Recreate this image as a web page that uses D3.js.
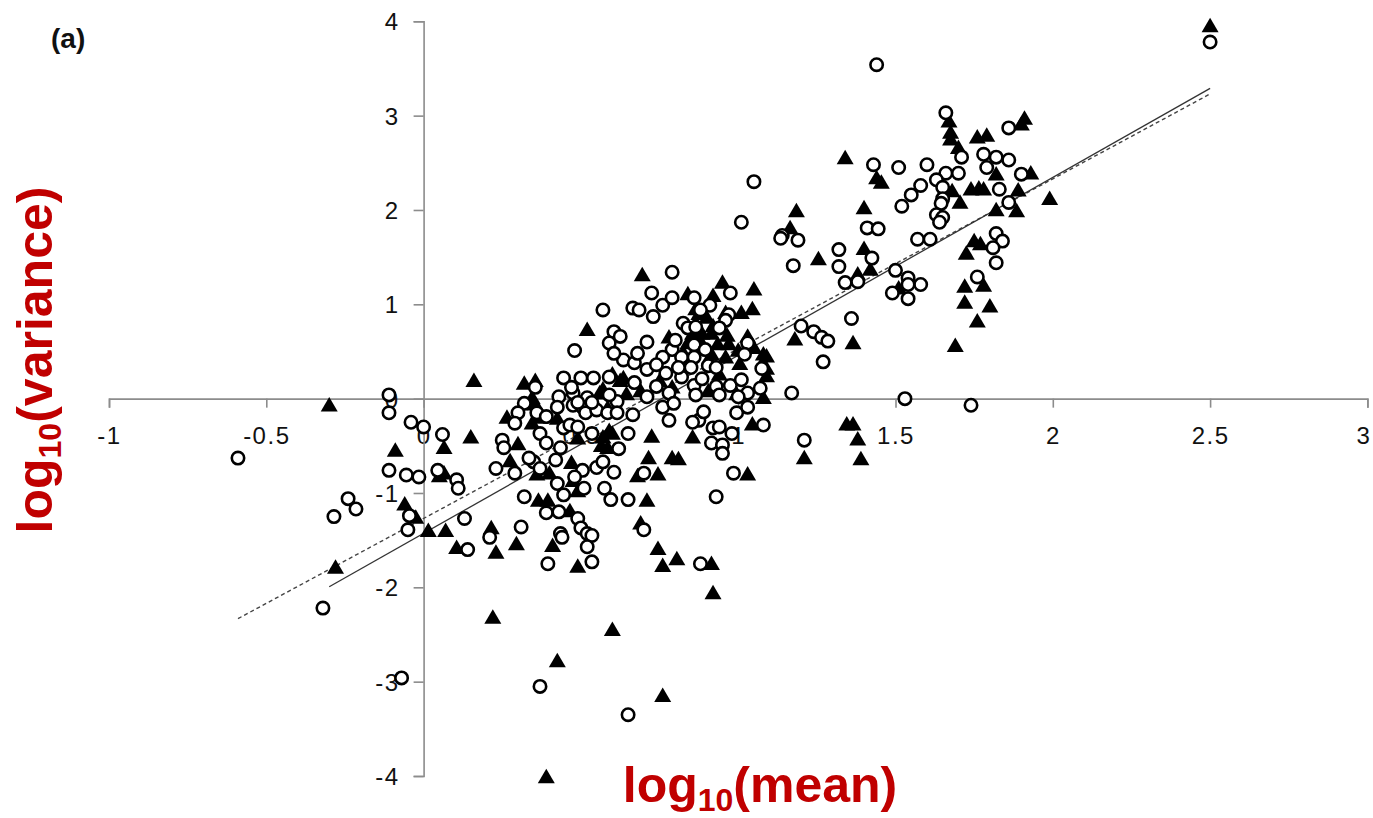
<!DOCTYPE html>
<html>
<head>
<meta charset="utf-8">
<script src="https://cdn.jsdelivr.net/npm/d3@7"></script>
<style>
  html, body { margin: 0; padding: 0; background: #ffffff; }
  svg { display: block; }
</style>
</head>
<body>
<svg id="chart" width="1373" height="818"></svg>
<script>
// ---------------- DATA ----------------
const xTicks = [-1, -0.5, 0, 0.5, 1, 1.5, 2, 2.5, 3];
const yTicks = [-4, -3, -2, -1, 0, 1, 2, 3, 4];
const panelLabel = "(a)";
const xTitleMain = "log", xTitleSub = "10", xTitleTail = "(mean)";
const yTitleMain = "log", yTitleSub = "10", yTitleTail = "(variance)";

// open circles: [log10(mean), log10(variance)]
const circles = [
  [2.50,3.78],[1.44,3.54],[1.66,3.03],[1.86,2.87],[1.71,2.56],[1.78,2.59],[1.82,2.56],[1.86,2.53],
  [1.43,2.48],[1.51,2.45],[1.60,2.48],[1.79,2.45],[1.66,2.39],[1.70,2.39],[1.90,2.38],[1.63,2.32],
  [1.58,2.26],[1.55,2.16],[1.52,2.04],[1.65,2.24],[1.65,2.12],[1.645,2.07],[1.63,1.95],[1.65,1.92],
  [1.64,1.87],[1.83,2.22],[1.86,2.08],[1.41,1.81],[1.445,1.80],[1.57,1.69],[1.61,1.69],[1.82,1.75],
  [1.84,1.67],[1.81,1.60],[1.82,1.44],[1.425,1.49],[1.50,1.36],[1.54,1.28],[1.58,1.21],[1.49,1.12],
  [1.54,1.06],[1.54,1.21],[1.76,1.29],[1.53,0.0],[1.74,-0.07],
  [1.14,1.73],[1.19,1.68],[1.175,1.41],[1.32,1.58],[1.32,1.40],[1.34,1.23],[1.38,1.24],[1.36,0.85],
  [1.20,0.77],[1.24,0.71],[1.265,0.65],[1.285,0.61],[1.27,0.39],[1.17,0.06],
  [1.05,2.30],[1.01,1.87],[1.135,1.70],[0.79,1.34],[0.57,0.94],[0.665,0.96],[0.685,0.94],[0.725,1.12],
  [0.76,0.99],[0.73,0.87],[0.79,1.07],[0.605,0.71],[0.625,0.66],[0.59,0.59],[0.71,0.60],[0.48,0.51],
  [0.86,1.07],[0.91,0.99],[0.975,1.12],[0.97,0.89],[0.96,0.83],[0.825,0.80],[0.84,0.75],[0.865,0.76],
  [0.94,0.75],[1.03,0.59],
  [0.88,0.94],[0.79,0.52],[0.76,0.44],[0.86,0.57],[0.895,0.52],[0.635,0.41],[0.67,0.38],[0.71,0.31],
  [0.77,0.27],[0.82,0.44],[0.86,0.44],[0.85,0.33],[0.905,0.35],[0.93,0.33],[1.02,0.47],[1.075,0.32],
  [0.59,0.23],[0.67,0.17],[0.74,0.13],[0.82,0.23],[0.86,0.14],[0.885,0.21],[0.93,0.13],[0.975,0.14],
  [1.01,0.20],[1.07,0.11],[0.615,-0.03],[0.71,0.02],[0.78,0.06],[0.865,0.04],[0.94,0.04],[1.03,0.06],
  [0.355,0.12],[0.445,0.22],[0.50,0.22],[0.54,0.22],[0.605,0.48],[0.43,0.02],[0.475,0.06],[0.52,0.01],
  [0.32,-0.05],[0.425,-0.09],[0.475,-0.07],[0.505,-0.09],
  [0.06,-0.38],[0.25,-0.44],[0.255,-0.52],[0.30,-0.15],[0.29,-0.26],[0.37,-0.37],[0.39,-0.47],[0.36,-0.15],
  [0.39,-0.19],[0.435,-0.52],[0.42,-0.65],[0.35,-0.67],[0.335,-0.63],[0.37,-0.74],[0.29,-0.79],[0.23,-0.74],
  [0.105,-0.86],[0.11,-0.95],[0.32,-1.04],[0.425,-0.90],[0.445,-1.02],[0.39,-1.21],[0.43,-1.20],[0.505,-0.76],
  [0.55,-0.73],[0.57,-0.67],[0.605,-0.78],[0.51,-0.95],[0.575,-0.95],[0.595,-1.07],[0.49,-1.27],[0.50,-1.37],
  [0.52,-1.43],[0.535,-1.45],[0.52,-1.57],[0.535,-1.73],[0.395,-1.75],[0.435,-1.43],[0.44,-1.47],[0.31,-1.36],
  [0.21,-1.47],[0.13,-1.27],[0.14,-1.60],[0.48,-0.83],[0.445,-0.31],[0.465,-0.28],[0.49,-0.30],[0.535,-0.37],
  [0.515,-0.15],[0.55,-0.12],[0.585,-0.15],[0.49,-0.04],[0.535,-0.04],
  [0.615,-0.15],[0.665,-0.17],[0.65,-0.37],[0.62,-0.53],[0.76,-0.09],[0.78,-0.23],[0.795,-0.05],[0.875,-0.23],
  [0.855,-0.25],[0.89,-0.14],[0.92,-0.31],[0.94,-0.30],[0.915,-0.47],[0.95,-0.49],[0.95,-0.58],[0.98,-0.37],
  [0.995,-0.15],[1.03,-0.09],[1.08,-0.28],[0.70,-0.79],[0.65,-1.07],[0.70,-1.39],[0.985,-0.79],[0.93,-1.04],
  [0.88,-1.75],[1.21,-0.44],
  [0.37,-3.05],[0.65,-3.35],[-0.04,-0.25],[0.0,-0.30],[-0.055,-0.81],[-0.015,-0.83],[0.045,-0.76],
  [-0.59,-0.63],[-0.11,0.04],[-0.11,-0.15],[-0.11,-0.76],[-0.285,-1.25],[-0.24,-1.06],[-0.215,-1.17],
  [-0.045,-1.24],[-0.05,-1.39],[-0.32,-2.22],[-0.07,-2.96],
  [0.47,0.12],[0.59,0.04],[0.81,0.33],[1.0,0.02],[0.74,0.36],[0.80,0.62],[0.68,0.48]
];

// filled triangles: [log10(mean), log10(variance)]
const triangles = [
  [2.50,3.96],[1.91,2.98],[1.90,2.92],[1.67,2.95],[1.675,2.83],[1.675,2.76],[1.70,2.67],[1.76,2.78],
  [1.79,2.80],[1.44,2.35],[1.455,2.30],[1.40,2.03],[1.74,2.23],[1.765,2.24],[1.78,2.23],[1.705,2.09],
  [1.68,2.21],[1.82,2.39],[1.93,2.40],[1.89,2.22],[1.99,2.13],[1.82,2.01],[1.885,2.00],[1.40,1.60],
  [1.42,1.38],[1.75,1.68],[1.77,1.65],[1.725,1.55],[1.72,1.20],[1.78,1.21],[1.72,1.03],[1.80,0.99],
  [1.76,0.83],[1.69,0.57],
  [1.34,2.56],[1.185,2.00],[1.165,1.82],[1.255,1.49],[1.38,1.33],[1.18,0.64],[1.365,0.60],[1.51,1.18],
  [0.695,1.32],[0.52,0.74],[0.84,1.12],[0.95,1.24],[1.05,1.17],[1.045,0.96],[1.01,0.92],[0.92,1.10],
  [1.03,0.67],[0.16,0.20],[0.32,0.17],[0.355,0.20],[0.60,0.27],[0.635,0.23],[1.09,0.46],[1.09,0.25],
  [0.865,0.96],[0.875,0.91],[0.96,0.92],[0.855,0.70],[0.885,0.70],[0.915,0.70],[0.965,0.68],[1.05,0.55],
  [1.08,0.48],[1.005,0.38],[1.09,0.33],[0.94,0.27],[0.91,0.41],[0.84,0.60],[0.625,0.20],[0.69,0.09],
  [0.75,0.20],[0.79,0.13],[0.905,0.09],[0.995,0.06],[1.08,0.02],[0.97,0.59],[0.90,0.87],[0.92,0.78],
  [0.57,0.11],[0.345,0.02],
  [0.15,-0.40],[0.065,-0.51],[0.065,-0.78],[0.30,-0.47],[0.275,-0.65],[0.265,-0.19],[0.345,-0.25],[0.37,-0.19],
  [0.425,-0.20],[0.36,-0.79],[0.40,-0.78],[0.47,-0.67],[0.475,-0.86],[0.365,-1.07],[0.395,-1.07],[0.465,-1.18],
  [0.49,-0.97],[0.07,-1.39],[0.105,-1.57],[0.215,-1.36],[0.23,-1.62],[0.295,-1.53],[0.41,-1.55],[0.49,-1.77],
  [0.57,-0.40],[0.585,-0.51],[0.49,-0.41],[0.355,-0.05],
  [0.725,-0.39],[0.855,-0.40],[0.715,-0.62],[0.79,-0.62],[0.81,-0.63],[0.68,-0.81],[0.745,-0.79],[1.03,-0.79],
  [1.045,-0.26],[0.71,-1.07],[0.69,-1.31],[0.745,-1.58],[0.805,-1.69],[0.76,-1.76],[0.915,-1.74],[0.60,-0.36],
  [0.22,-2.31],[0.60,-2.44],[0.425,-2.77],[0.76,-3.14],[0.39,-4.0],[0.92,-2.05],[1.21,-0.62],[1.345,-0.26],
  [1.365,-0.26],[1.38,-0.42],[1.39,-0.63],[0.05,-0.81],[0.015,-1.39],[0.56,0.07],[0.565,-0.49],[0.585,-0.09],
  [0.59,-0.33],[0.645,0.06],
  [-0.30,-0.06],[-0.09,-0.54],[-0.06,-1.11],[-0.025,-1.25],[-0.28,-1.78],
  [0.935,0.59],[0.915,0.48],[0.825,0.50],[0.96,0.45],[0.78,0.66],[0.88,0.62],[1.0,0.52]
];

// regression lines: [x0, x1], slope, intercept
const solidFit = { xs: [-0.30, 2.50], slope: 1.887, intercept: -1.428 };
const dashedFit = { xs: [-0.59, 2.50], slope: 1.800, intercept: -1.270 };

// ---------------- CHART ----------------
const svg = d3.select("#chart");
const x = d3.scaleLinear().domain([-1, 3]).range([109, 1367.4]);
const y = d3.scaleLinear().domain([-4, 4]).range([776, 21.3]);
const axisColor = "#8c8c8c";
const font = "'Liberation Sans', Arial, sans-serif";

// x axis
const gx = svg.append("g")
  .attr("transform", `translate(0,${y(0)})`)
  .call(d3.axisBottom(x).tickValues(xTicks).tickFormat(d => String(d))
    .tickSize(9).tickSizeOuter(9).tickPadding(19));
// y axis
const gy = svg.append("g")
  .attr("transform", `translate(${x(0)},0)`)
  .call(d3.axisLeft(y).tickValues(yTicks).tickFormat(d => String(d))
    .tickSize(10).tickSizeOuter(10).tickPadding(14));

[gx, gy].forEach(g => {
  g.attr("font-size", null).attr("font-family", null);
  g.select(".domain").attr("stroke", axisColor).attr("stroke-width", 1.6);
  g.selectAll(".tick line").attr("stroke", axisColor).attr("stroke-width", 1.6);
  g.selectAll(".tick text")
    .attr("fill", "#111")
    .style("font-family", font)
    .style("font-size", "24px")
    .style("letter-spacing", "1.5px");
});
gy.selectAll(".tick text").attr("dy", "0.36em");
// keep the last x label inside the picture
gx.selectAll(".tick text").filter(d => d === xTicks[xTicks.length - 1])
  .attr("text-anchor", "end").attr("x", 2).style("letter-spacing", "0px");

// regression lines
const line = d3.line().x(d => x(d[0])).y(d => y(d[1]));
function fitPts(f) { return f.xs.map(v => [v, f.slope * v + f.intercept]); }
svg.append("path").datum(fitPts(dashedFit)).attr("d", line)
  .attr("fill", "none").attr("stroke", "#444").attr("stroke-width", 1.4)
  .attr("stroke-dasharray", "4,3");
svg.append("path").datum(fitPts(solidFit)).attr("d", line)
  .attr("fill", "none").attr("stroke", "#333").attr("stroke-width", 1.3);

// triangles (filled)
const tri = "M0,-8L8.5,6.5L-8.5,6.5Z";
svg.append("g").selectAll("path").data(triangles).join("path")
  .attr("d", tri)
  .attr("transform", d => `translate(${x(d[0])},${y(d[1]) + 0.7})`)
  .attr("fill", "#000");

// circles (open)
svg.append("g").selectAll("circle").data(circles).join("circle")
  .attr("cx", d => x(d[0])).attr("cy", d => y(d[1]))
  .attr("r", 6.2)
  .attr("fill", "#fff").attr("stroke", "#000").attr("stroke-width", 2.6);

// panel label
svg.append("text").attr("x", 51).attr("y", 48)
  .style("font-family", font)
  .style("font-weight", "bold").style("font-size", "28px")
  .attr("fill", "#111").text(panelLabel);

// axis titles
const red = "#c00000";
function title(t, main, sub, tail) {
  t.style("font-family", font)
   .style("font-weight", "bold").style("font-size", "50px")
   .attr("fill", red).attr("text-anchor", "middle");
  t.append("tspan").text(main);
  t.append("tspan").attr("dy", 9).style("font-size", "32px").text(sub);
  t.append("tspan").attr("dy", -9).text(tail);
}
title(svg.append("text").attr("x", 760).attr("y", 802), xTitleMain, xTitleSub, xTitleTail);
title(svg.append("text").attr("transform", "translate(52,360) rotate(-90)"), yTitleMain, yTitleSub, yTitleTail);
</script>
</body>
</html>
